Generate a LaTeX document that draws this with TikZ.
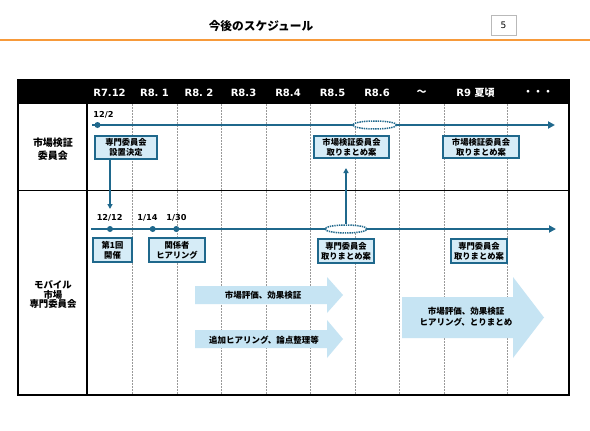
\documentclass[tikz,border=0pt]{standalone}
\usepackage{fontspec}
\setmainfont{Noto Sans CJK JP}
\newfontfamily\lat{DejaVu Sans}
\usetikzlibrary{arrows.meta,shapes.geometric}
\definecolor{tl}{RGB}{31,104,140}
\definecolor{boxfill}{RGB}{214,236,247}
\definecolor{arrfill}{RGB}{198,228,243}
\definecolor{orng}{RGB}{247,154,58}
\begin{document}
\begin{tikzpicture}[x=1pt,y=-1pt,
  hdr/.style={text=white, inner sep=0pt, font=\lat\bfseries\fontsize{10}{12}\selectfont},
  hdrjp/.style={text=white, inner sep=0pt, font=\bfseries\fontsize{10}{12}\selectfont},
  date/.style={inner sep=0pt, font=\lat\bfseries\fontsize{8.2}{10}\selectfont},
  evbox/.style={draw=tl, line width=1.3pt, fill=boxfill, inner sep=0pt, align=center,
    font=\bfseries\fontsize{8.3}{10}\selectfont},
  dot/.style={circle, fill=tl, inner sep=0pt, minimum size=6pt},
  ell/.style={ellipse, draw=tl, line width=1.5pt, dash pattern=on 1.4pt off 0.9pt, fill=white, inner sep=0pt},
  tline/.style={draw=tl, line width=2.2pt, -{Triangle[length=7pt,width=7pt]}},
  conn/.style={draw=tl, line width=1.5pt, -{Triangle[length=5pt,width=5pt]}},
  vgrid/.style={draw=gray!80, line width=0.6pt, dash pattern=on 2pt off 1pt},
  fat/.style={fill=arrfill},
  fattext/.style={inner sep=0pt, align=center, font=\bfseries\fontsize{8.5}{10.5}\selectfont},
  rowlbl/.style={inner sep=0pt, align=center, font=\bfseries\fontsize{10}{12.5}\selectfont},
  rowlblb/.style={inner sep=0pt, align=center, font=\bfseries\fontsize{9.4}{9.8}\selectfont}
]
\useasboundingbox (0,0) rectangle (590,431);
\fill[white] (0,0) rectangle (590,431);

% title
\node[inner sep=0pt, font=\bfseries\fontsize{11.7}{14}\selectfont] (title) at (261,26) {今後のスケジュール};
\node[draw=gray!55, line width=0.8pt, fill=white, minimum width=25pt, minimum height=20pt, inner sep=0pt,
  font=\lat\fontsize{9}{10}\selectfont] (pg) at (503.5,25) {5};
\draw[orng, line width=2.5pt] (0,40) -- (590,40);

% table header
\fill[black] (18,80) rectangle (569,104);
\node[hdr] (h1) at (109.5,92.5) {R7.12};
\node[hdr] (h2) at (154.5,92.5) {R8.~1};
\node[hdr] (h3) at (199,92.5) {R8.~2};
\node[hdr] (h4) at (243.5,92.5) {R8.3};
\node[hdr] (h5) at (288,92.5) {R8.4};
\node[hdr] (h6) at (332.5,92.5) {R8.5};
\node[hdr] (h7) at (377,92.5) {R8.6};
\node[hdrjp] (h8) at (421.5,92.5) {～};
\node[hdr] (h9) at (475.5,92.5) {R9 {\fontspec{Noto Sans CJK JP}\bfseries 夏頃}};
\node[hdrjp] (h10) at (538,92.5) {・・・};

% grid
\foreach \x in {132,177,221,266,310,355,399,444,507}
  \draw[vgrid] (\x,104) -- (\x,395);
\draw[black, line width=1pt] (18,190) -- (569,190);
\draw[black, line width=1.3pt] (87,104) -- (87,395);

% row labels
\node[rowlbl] (r1) at (53,149) {市場検証\\委員会};
\node[rowlblb] (r2) at (53,294.5) {モバイル\\市場\\専門委員会};

% top timeline
\coordinate (t1s) at (92,125);
\coordinate (t1e) at (555,125);
\draw[tline] (t1s) -- (t1e);
\node[dot] (d0) at (97.5,125) {};
\node[date] (l0) at (103.5,115) {12/2};
\node[ell, minimum width=44pt, minimum height=8pt] (e1) at (374.7,125) {};

% bottom timeline
\coordinate (t2s) at (91,229);
\coordinate (t2e) at (556,229);
\draw[tline] (t2s) -- (t2e);
\node[dot] (d1) at (110,229) {};
\node[dot] (d2) at (152.7,229) {};
\node[dot] (d3) at (176.3,229) {};
\node[date] (l1) at (109.7,218) {12/12};
\node[date] (l2) at (147.5,218) {1/14};
\node[date] (l3) at (176.5,218) {1/30};
\node[ell, minimum width=42pt, minimum height=8pt] (e2) at (346,229) {};

% event boxes
\node[evbox, minimum width=62pt, minimum height=23pt] (b1) at (126,147.5) {専門委員会\\設置決定};
\node[evbox, minimum width=75pt, minimum height=22pt] (b2) at (351.5,147) {市場検証委員会\\取りまとめ案};
\node[evbox, minimum width=76pt, minimum height=22pt] (b3) at (481,147) {市場検証委員会\\取りまとめ案};
\node[evbox, minimum width=39pt, minimum height=24pt] (b4) at (112.5,250) {第1回\\開催};
\node[evbox, minimum width=56pt, minimum height=24pt] (b5) at (177,250) {関係者\\ヒアリング};
\node[evbox, minimum width=56pt, minimum height=24pt] (b6) at (346,251) {専門委員会\\取りまとめ案};
\node[evbox, minimum width=56pt, minimum height=24pt] (b7) at (479,251) {専門委員会\\取りまとめ案};

% connectors
\coordinate (a1e) at (110,209);
\draw[conn] (b1.south -| a1e) -- (a1e);
\coordinate (a2e) at (346,168);
\draw[conn] (e2.north) -- (a2e);

% fat arrows
\fill[fat] (195,286) -- (327,286) -- (327,277) -- (343,295) -- (327,313) -- (327,304) -- (195,304) -- cycle;
\fill[fat] (195,330) -- (327,330) -- (327,320) -- (343,339) -- (327,358) -- (327,348) -- (195,348) -- cycle;
\fill[fat] (402,297) -- (513,297) -- (513,277) -- (544,317.5) -- (513,358) -- (513,338) -- (402,338) -- cycle;
\node[fattext] (f1) at (263,295) {市場評価、効果検証};
\node[fattext] (f2) at (264,340) {追加ヒアリング、論点整理等};
\node[fattext] (f3) at (466,317) {市場評価、効果検証\\ヒアリング、とりまとめ};

% outer border
\draw[black, line width=1.3pt] (18,80) rectangle (569,395);
\end{tikzpicture}
\end{document}
